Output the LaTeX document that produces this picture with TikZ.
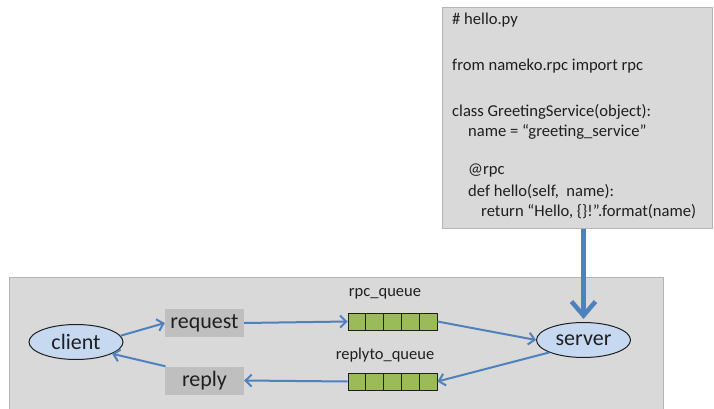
\documentclass[tikz,border=0pt]{standalone}
\usepackage{fontspec}
\setmainfont{Carlito}
\usetikzlibrary{arrows.meta,shapes.geometric,calc}

\definecolor{panelgray}{HTML}{D9D9D9}
\definecolor{panelline}{HTML}{B4B4B4}
\definecolor{msggray}{HTML}{BFBFBF}
\definecolor{flowblue}{HTML}{4F81BD}
\definecolor{nodeblue}{HTML}{C6D9F1}
\definecolor{queuegreen}{HTML}{9BBB59}
\definecolor{inkdark}{HTML}{1F1F1F}

\tikzset{
  panel/.style={draw=panelline, line width=0.8pt, fill=panelgray, inner sep=0pt},
  codeline/.style={anchor=west, inner sep=0pt, font=\fontsize{16.6}{18}\selectfont, text=inkdark},
  endpoint/.style={ellipse, draw=inkdark, line width=1pt, fill=nodeblue,
    minimum width=94pt, minimum height=35pt, inner sep=0pt,
    font=\fontsize{22}{24}\selectfont, text=inkdark},
  msgbox/.style={fill=msggray, minimum width=79pt, minimum height=28pt, inner sep=0pt,
    font=\fontsize{22}{24}\selectfont, text=inkdark},
  qlabel/.style={inner sep=0pt, font=\fontsize{16.5}{18}\selectfont, text=inkdark},
  queue/.style={draw=inkdark, line width=0.9pt, fill=queuegreen,
    minimum width=89pt, minimum height=17pt, inner sep=0pt,
    path picture={
      \foreach \k in {1,...,4}{
        \draw[inkdark, line width=0.9pt]
          ($(path picture bounding box.north west)!\k/5!(path picture bounding box.north east)$) --
          ($(path picture bounding box.south west)!\k/5!(path picture bounding box.south east)$);
      }
    }},
  flow/.style={draw=flowblue, line width=2pt,
    -{Straight Barb[length=6pt,width=12pt,line width=2pt]}},
  deploy/.style={draw=flowblue, line width=4.5pt,
    -{Straight Barb[length=14pt,width=24pt,line width=4.5pt]}},
}

\begin{document}
\begin{tikzpicture}[x=1pt,y=-1pt]
\useasboundingbox (0,0) rectangle (714,409);

% source listing of the service
\node[panel, anchor=north west, minimum width=270pt, minimum height=221pt] (code) at (442,7) {};
\node[codeline] (c1) at (452,20)  {\# hello.py};
\node[codeline] (c2) at (452,66)  {from nameko.rpc import rpc};
\node[codeline] (c3) at (452,112) {class GreetingService(object):};
\node[codeline] (c4) at (468,132) {name = “greeting\_service”};
\node[codeline] (c5) at (468,171) {@rpc};
\node[codeline] (c6) at (468,192) {def hello(self,~ name):};
\node[codeline] (c7) at (481,212) {return “Hello, \{\}!”.format(name)};

% message flow panel
\node[panel, anchor=north west, minimum width=654pt, minimum height=140pt] (flowpanel) at (9,277) {};

\node[endpoint] (client) at (76,342) {client};
\node[endpoint] (server) at (583.5,340) {server};

\node[msgbox] (request) at (204.5,323) {request};
\node[msgbox] (reply) at (204.5,380.5) {reply};

\node[queue] (rpcq) at (392.5,321.5) {};
\node[queue] (replyq) at (392.5,381.5) {};
\node[qlabel] (rpcqlabel) at (385,294) {rpc\_queue};
\node[qlabel] (replyqlabel) at (385,355) {replyto\_queue};

% request path
\draw[flow] (client.8) -- (request.west);
\draw[flow] (request.east) -- (rpcq.west);
\draw[flow] (rpcq.east) -- (server.west);

% reply path
\draw[flow] (server.200) -- (replyq.east);
\draw[flow] (replyq.west) -- (reply.east);
\draw[flow] (reply.160) -- (client.-18);

% service code runs in the server
\draw[deploy, shorten >=3pt] (code.south -| server.north) -- (server.north);
\end{tikzpicture}
\end{document}
